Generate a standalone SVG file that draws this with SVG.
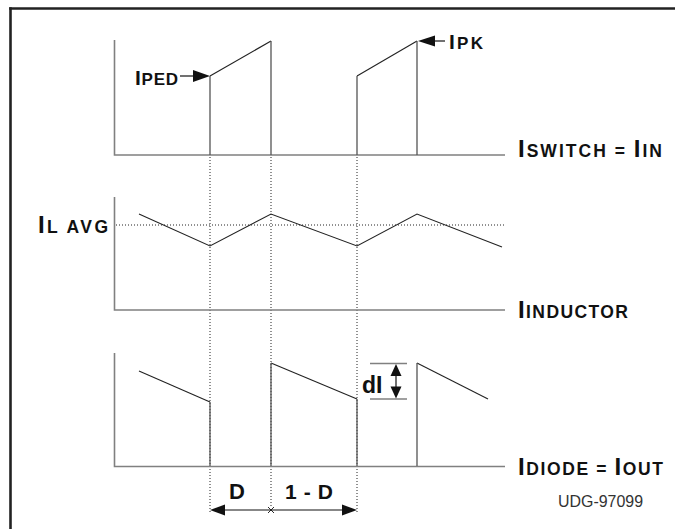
<svg xmlns="http://www.w3.org/2000/svg" width="675" height="529" viewBox="0 0 675 529">
<style>
.frame{stroke:#222;stroke-width:2.6;fill:none}
.axis{stroke:#808080;stroke-width:1.6;fill:none}
.wave{stroke:#222;stroke-width:1.1;fill:none;stroke-linejoin:miter}
.vert{stroke:#555;stroke-width:1.3;fill:none}
.dot{stroke:#222;stroke-width:1;stroke-dasharray:1 2;fill:none}
.lbl{font-family:"Liberation Sans",Arial,sans-serif;font-weight:bold;fill:#111}
.big{font-size:24px}
.sm{font-size:17.5px}
.head{fill:#111;stroke:none}
.thin{stroke:#111;stroke-width:1.2;fill:none}
</style>
<rect width="675" height="529" fill="#fff"/>
<g id="frame">
<line class="frame" x1="9.2" y1="8.5" x2="675" y2="8.5"/>
<line class="frame" x1="10.5" y1="7.2" x2="10.5" y2="529"/>
</g>
<g id="connectors">
<line class="dot" x1="210" y1="157" x2="210" y2="513"/>
<line class="dot" x1="271" y1="157" x2="271" y2="508"/>
<line class="dot" x1="357" y1="157" x2="357" y2="513"/>
<line class="dot" x1="116" y1="225" x2="505" y2="225"/>
</g>
<g id="panel-switch">
<path class="axis" d="M114.5,40 V155 H505"/>
<path class="wave" d="M210,76 L271,41"/>
<path class="wave" d="M357,76 L417,41"/>
<path class="vert" d="M210,155 V76 M271,41 V155 M357,155 V76 M417,41 V155"/>
<text class="lbl" x="518" y="157" textLength="144" lengthAdjust="spacing"><tspan class="big">I</tspan><tspan class="sm">SWITCH = </tspan><tspan class="big">I</tspan><tspan class="sm">IN</tspan></text>
</g>
<g id="label-iped">
<text class="lbl" x="135" y="85" textLength="43" lengthAdjust="spacing"><tspan style="font-size:21px">I</tspan><tspan style="font-size:17px">PED</tspan></text>
<line class="thin" x1="180" y1="76" x2="195" y2="76"/>
<polygon class="head" points="210,76 193,70 193,82"/>
</g>
<g id="label-ipk">
<text class="lbl" x="449" y="49" textLength="34" lengthAdjust="spacing"><tspan style="font-size:21px">I</tspan><tspan style="font-size:17px">PK</tspan></text>
<line class="thin" x1="433" y1="41" x2="445" y2="41"/>
<polygon class="head" points="418,41 435,35.5 435,46.5"/>
</g>
<g id="panel-inductor">
<path class="axis" d="M114.5,197 V310 H505"/>
<path class="wave" d="M139,214 L210,246 L271,214 L357,246 L417,214 L502,247"/>
<text class="lbl" x="38" y="233" textLength="70" lengthAdjust="spacing"><tspan class="big">I</tspan><tspan class="sm">L AVG</tspan></text>
<text class="lbl" x="518" y="318" textLength="110" lengthAdjust="spacing"><tspan class="big">I</tspan><tspan class="sm">INDUCTOR</tspan></text>
</g>
<g id="panel-diode">
<path class="axis" d="M114.5,353 V466.5 H505"/>
<path class="wave" d="M139,371 L210,402"/>
<path class="wave" d="M271,363 L357,399"/>
<path class="wave" d="M417,363 L488,399"/>
<path class="vert" d="M210,402 V466 M271,466 V363 M357,399 V466 M417,466 V363"/>
<text class="lbl" x="518" y="475" textLength="145" lengthAdjust="spacing"><tspan class="big">I</tspan><tspan class="sm">DIODE = </tspan><tspan class="big">I</tspan><tspan class="sm">OUT</tspan></text>
</g>
<g id="dim-di">
<line class="axis" x1="370" y1="363.5" x2="407" y2="363.5" style="stroke-width:1.3"/>
<line class="axis" x1="370" y1="399" x2="407" y2="399" style="stroke-width:1.3"/>
<line class="thin" x1="396" y1="372" x2="396" y2="390"/>
<polygon class="head" points="396,364 390.5,376 401.5,376"/>
<polygon class="head" points="396,398.5 390.5,386.5 401.5,386.5"/>
<text class="lbl" x="362" y="393" style="font-size:23px">dI</text>
</g>
<g id="dim-d">
<line class="thin" x1="222" y1="510" x2="345" y2="510"/>
<polygon class="head" points="210,510 225,504.5 225,515.5"/>
<polygon class="head" points="357,510 342,504.5 342,515.5"/>
<path class="thin" d="M268,507 L274,513 M274,507 L268,513" style="stroke-width:0.9"/>
<text class="lbl" x="229" y="499" style="font-size:22px">D</text>
<text class="lbl" x="285" y="499" style="font-size:21px" textLength="48" lengthAdjust="spacing">1 - D</text>
</g>
<text x="558" y="507" style="font-family:'Liberation Sans',Arial,sans-serif;font-size:16px;fill:#333" textLength="85" lengthAdjust="spacingAndGlyphs">UDG-97099</text>
</svg>
